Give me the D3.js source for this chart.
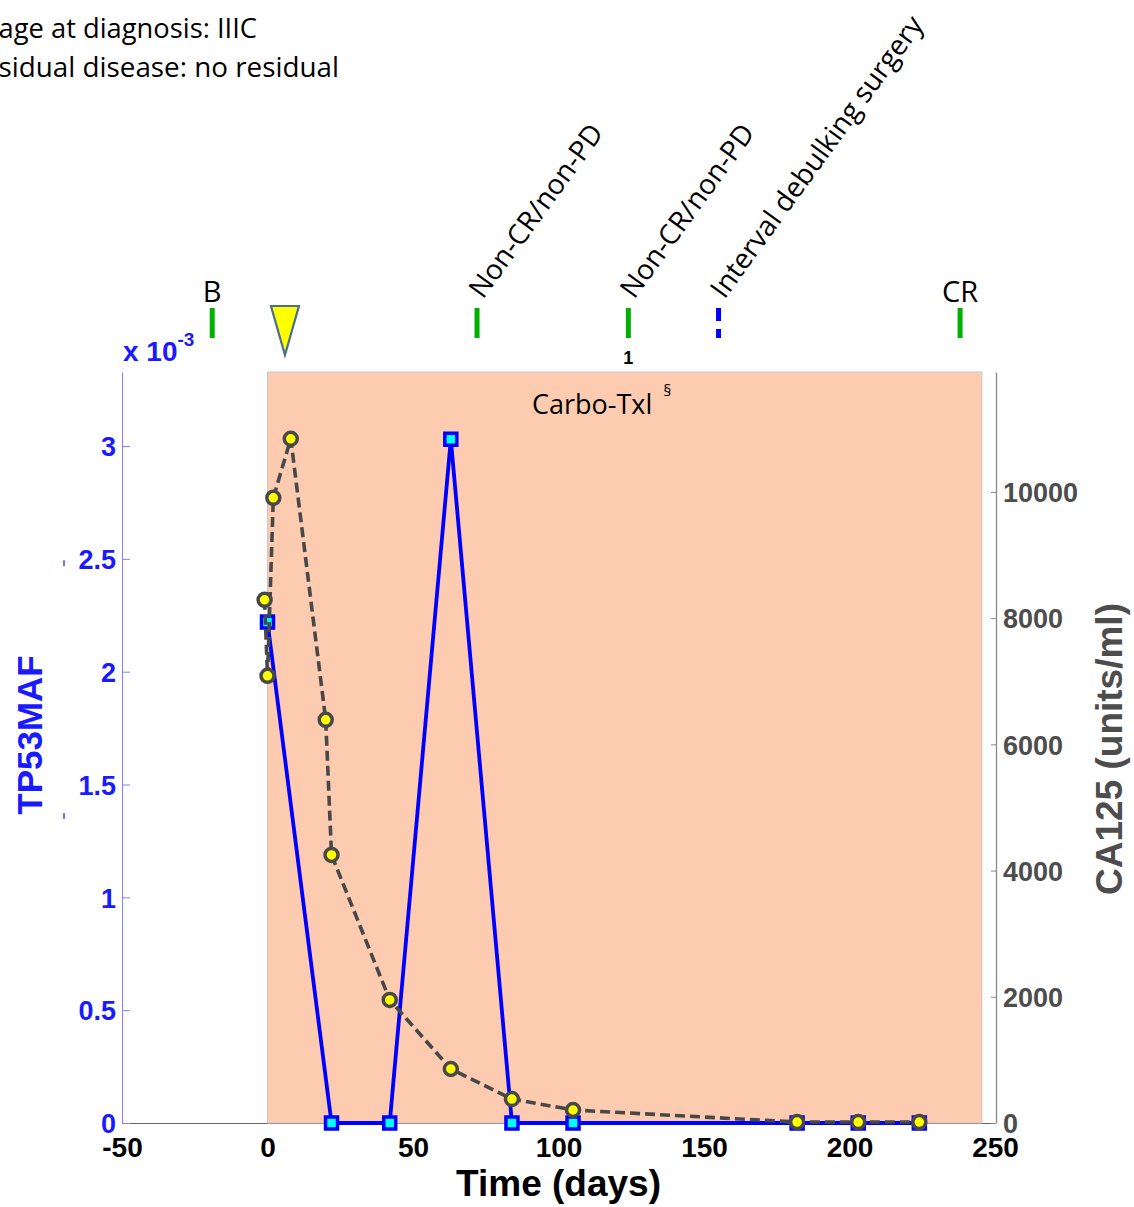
<!DOCTYPE html>
<html>
<head>
<meta charset="utf-8">
<script src="https://cdn.jsdelivr.net/npm/d3@7"></script>
<style>
body { margin: 0; background: #fff; }
svg { display: block; }
.cal { font-family: "Open Sans", Lato, sans-serif; }
.ar { font-family: "Liberation Sans", Arial, sans-serif; font-weight: bold; }
</style>
</head>
<body>
<svg id="chart"></svg>
<script>
var width = 1134;
var height = 1207;

// TP53 mutant allele fraction, in units of 1e-3
var mafDays = [0, 22, 42, 63, 84, 105, 182, 203, 224];
var mafVals = [2.22, 0, 0, 3.03, 0, 0, 0, 0, 0];

// CA125 (units/ml)
var caDays = [-1, 0, 2, 8, 20, 22, 42, 63, 84, 105, 182, 203, 224];
var caVals = [8290, 7085, 9906, 10842, 6388, 4248, 1950, 856, 380, 206, 15, 15, 15];

var xTicks = [-50, 0, 50, 100, 150, 200, 250];
var leftTicks = [0, 0.5, 1, 1.5, 2, 2.5, 3];
var rightTicks = [0, 2000, 4000, 6000, 8000, 10000];

// response / event marks above the plot
var eventNames = ["B", "Non-CR/non-PD", "Non-CR/non-PD", "Interval debulking surgery", "CR"];
var eventDays = [-19, 72, 124, 155, 238];
var eventTypes = ["resp", "resp", "resp", "surgery", "resp"];
var eventRotated = [false, true, true, true, false];
var startDay = 6;            // triangle
var noteDay = 124;           // the small "1"
var therapyName = "Carbo-Txl";
var therapyRange = [0, 245.5];

var infoLines = ["Stage at diagnosis: IIIC", "Residual disease: no residual"];

var plotL = 122, plotR = 995, plotT = 372, plotB = 1123;

var svg = d3.select("#chart").attr("width", width).attr("height", height);
svg.append("rect").attr("width", width).attr("height", height).attr("fill", "#fff");

var x = d3.scaleLinear().domain([-50, 250]).range([plotL, plotR]);
var yL = d3.scaleLinear().domain([0, 3.328]).range([plotB, plotT]);
var yR = d3.scaleLinear().domain([0, 11900]).range([plotB, plotT]);

// info text top-left
svg.selectAll("text.info").data(infoLines).enter()
	.append("text")
	.attr("class", "info cal")
	.attr("x", function(d, i) { return i == 0 ? 257 : 339; })
	.attr("y", function(d, i) { return 38 + i*39; })
	.attr("text-anchor", "end")
	.attr("font-size", function(d, i) { return i == 0 ? 27.3 : 27.8; })
	.attr("fill", "#000")
	.text(function(d) { return d; });

// axes
var gx = svg.append("g")
	.attr("transform", "translate(0," + plotB + ")")
	.call(d3.axisBottom(x).tickValues(xTicks).tickSize(0).tickPadding(14)
		.tickFormat(function(d) { return String(d); }));
gx.select(".domain").attr("stroke", "#666").attr("stroke-width", 1.2);
gx.selectAll("text").attr("class", "ar").attr("font-size", 28).attr("fill", "#000");

var gl = svg.append("g")
	.attr("transform", "translate(" + plotL + ",0)")
	.call(d3.axisLeft(yL).tickValues(leftTicks).tickSize(-8).tickSizeOuter(0).tickPadding(6)
		.tickFormat(function(d) { return String(d); }));
gl.select(".domain").attr("stroke", "#8080ff");
gl.selectAll(".tick line").attr("stroke", "#8080ff");
gl.selectAll("text").attr("class", "ar").attr("font-size", 27).attr("fill", "#1a1aff").attr("dy", "0.36em");

var gr = svg.append("g")
	.attr("transform", "translate(" + (plotR + 1) + ",0)")
	.call(d3.axisRight(yR).tickValues(rightTicks).tickSize(-5).tickSizeOuter(0).tickPadding(7)
		.tickFormat(function(d) { return String(d); }));
gr.select(".domain").attr("stroke", "#888").attr("stroke-width", 1.3);
gr.selectAll(".tick line").attr("stroke", "#888");
gr.selectAll("text").attr("class", "ar").attr("font-size", 27).attr("fill", "#4d4d4d").attr("dy", "0.36em");

// therapy shade
svg.append("rect")
	.attr("x", x(therapyRange[0]))
	.attr("y", plotT)
	.attr("width", x(therapyRange[1]) - x(therapyRange[0]))
	.attr("height", plotB - plotT)
	.attr("fill", "#fdcbb0")
	.attr("stroke", "#c8c8c8")
	.attr("stroke-width", 1);

var tt = svg.append("text")
	.attr("class", "cal")
	.attr("x", 532).attr("y", 414)
	.attr("font-size", 27)
	.text(therapyName);
tt.append("tspan").attr("font-size", 16).attr("dx", 11).attr("dy", -18).text("§");

// axis titles
svg.append("text")
	.attr("class", "ar")
	.attr("transform", "translate(42,735) rotate(-90)")
	.attr("text-anchor", "middle")
	.attr("font-size", 35)
	.attr("fill", "#1a1aff")
	.text("TP53MAF");

svg.append("text")
	.attr("class", "ar")
	.attr("transform", "translate(1122,749) rotate(-90)")
	.attr("text-anchor", "middle")
	.attr("font-size", 37)
	.attr("fill", "#4d4d4d")
	.text("CA125 (units/ml)");

svg.append("text")
	.attr("class", "ar")
	.attr("x", (plotL + plotR) / 2).attr("y", 1196)
	.attr("text-anchor", "middle")
	.attr("font-size", 37)
	.text("Time (days)");

var sc = svg.append("text")
	.attr("class", "ar")
	.attr("x", 123).attr("y", 361)
	.attr("font-size", 28)
	.attr("fill", "#1a1aff")
	.text("x 10");
sc.append("tspan").attr("font-size", 19).attr("dy", -15).text("-3");

// stray blue specks at far left
svg.selectAll("line.speck").data([2.48, 1.36]).enter()
	.append("line")
	.attr("x1", 64).attr("x2", 64)
	.attr("y1", function(d) { return yL(d) - 3; })
	.attr("y2", function(d) { return yL(d) + 3; })
	.attr("stroke", "#4040ff").attr("stroke-width", 1.5);

// event marks
svg.selectAll("line.ev").data(eventDays).enter()
	.append("line")
	.attr("x1", function(d) { return x(d); })
	.attr("x2", function(d) { return x(d); })
	.attr("y1", 308).attr("y2", 338)
	.attr("stroke", function(d, i) { return eventTypes[i] == "surgery" ? "#0000ff" : "#00b000"; })
	.attr("stroke-width", 5)
	.attr("stroke-dasharray", function(d, i) { return eventTypes[i] == "surgery" ? "13,8" : null; });

svg.selectAll("text.ev").data(eventDays).enter()
	.append("text")
	.attr("class", "cal")
	.attr("font-size", function(d, i) { return eventRotated[i] ? 28 : 29; })
	.attr("text-anchor", function(d, i) { return eventRotated[i] ? "start" : "middle"; })
	.attr("transform", function(d, i) {
		if (eventRotated[i]) return "translate(" + (x(d) + 6) + ",300) rotate(-54)";
		return "translate(" + x(d) + ",302)";
	})
	.text(function(d, i) { return eventNames[i]; });

svg.append("text")
	.attr("class", "ar")
	.attr("x", x(noteDay)).attr("y", 364)
	.attr("text-anchor", "middle")
	.attr("font-size", 18)
	.text("1");

var tx = x(startDay);
svg.append("path")
	.attr("d", "M" + (tx - 14) + ",306 L" + (tx + 14) + ",306 L" + tx + ",355 Z")
	.attr("fill", "#ffff00")
	.attr("stroke", "#4a6e8f")
	.attr("stroke-width", 2.2)
	.attr("stroke-linejoin", "miter");

// TP53 MAF series
var mafData = mafDays.map(function(d, i) { return [d, mafVals[i]]; });
var caData = caDays.map(function(d, i) { return [d, caVals[i]]; });

svg.append("path")
	.datum(mafData)
	.attr("fill", "none")
	.attr("stroke", "#0000ff")
	.attr("stroke-width", 3.8)
	.attr("d", d3.line().x(function(d) { return x(d[0]); }).y(function(d) { return yL(d[1]); }));

svg.selectAll("rect.maf").data(mafData).enter()
	.append("rect")
	.attr("x", function(d) { return x(d[0]) - 6; })
	.attr("y", function(d) { return yL(d[1]) - 6; })
	.attr("width", 12).attr("height", 12)
	.attr("fill", "#00ffff")
	.attr("stroke", "#0000ff")
	.attr("stroke-width", 3.5);

// CA125 series
svg.append("path")
	.datum(caData)
	.attr("fill", "none")
	.attr("stroke", "#484848")
	.attr("stroke-width", 3.6)
	.attr("stroke-dasharray", "10,5")
	.attr("d", d3.line().x(function(d) { return x(d[0]); }).y(function(d) { return yR(d[1]); }));

svg.selectAll("circle.ca").data(caData).enter()
	.append("circle")
	.attr("cx", function(d) { return x(d[0]); })
	.attr("cy", function(d) { return yR(d[1]); })
	.attr("r", 6.5)
	.attr("fill", "#ffff00")
	.attr("stroke", "#484848")
	.attr("stroke-width", 3.5);
</script>
</body>
</html>
